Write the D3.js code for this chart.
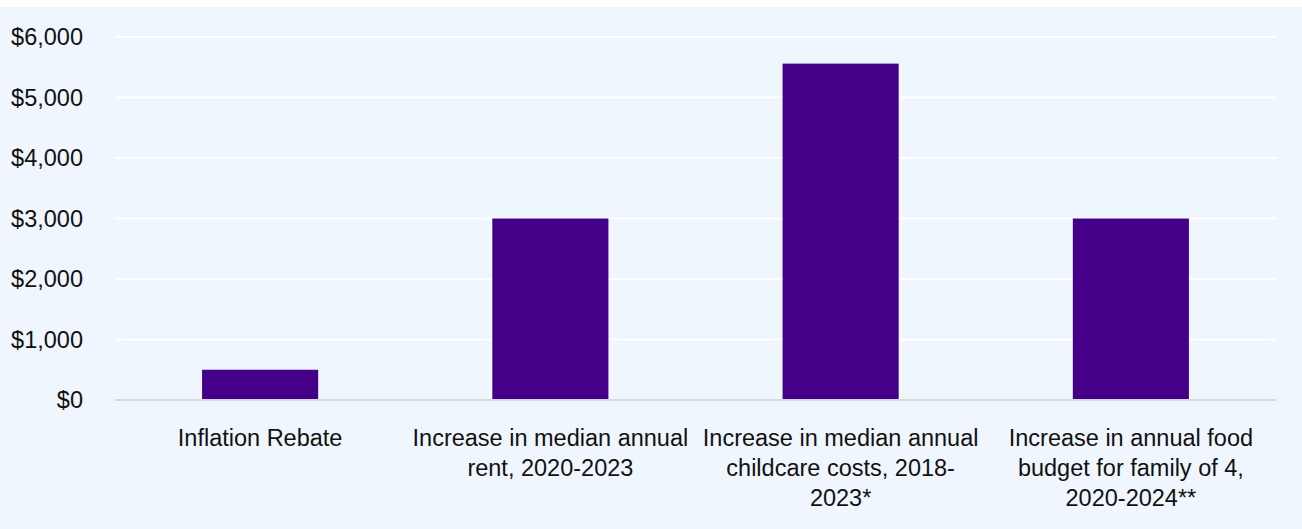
<!DOCTYPE html>
<html>
<head>
<meta charset="utf-8">
<script src="https://cdn.jsdelivr.net/npm/d3@7"></script>
<style>
  body { margin: 0; background: #fff; }
  svg { display: block; }
  text { font-family: "Liberation Sans", Arial, sans-serif; fill: #111; }
</style>
</head>
<body>
<svg id="chart"></svg>
<script>
// categories (each label split into its lines) and values
var categories = [
  ["Inflation Rebate"],
  ["Increase in median annual", "rent, 2020-2023"],
  ["Increase in median annual", "childcare costs, 2018-", "2023*"],
  ["Increase in annual food", "budget for family of 4,", "2020-2024**"]
];
var values = [500, 3000, 5560, 3000];
var yTicks = [0, 1000, 2000, 3000, 4000, 5000, 6000];

var W = 1302, H = 529;
var margin = {top: 37, right: 26, bottom: 129, left: 115},
    width = W - margin.left - margin.right,
    height = H - margin.top - margin.bottom;

var svg = d3.select("#chart").attr("width", W).attr("height", H);

// panel background
svg.append("rect")
  .attr("x", 0).attr("y", 7)
  .attr("width", W).attr("height", H - 7)
  .attr("fill", "#eff6fe");

var g = svg.append("g")
  .attr("transform", "translate(" + margin.left + "," + margin.top + ")");

var x = d3.scaleBand()
  .domain(d3.range(categories.length))
  .range([0, width])
  .paddingInner(0.6)
  .paddingOuter(0.3);

var y = d3.scaleLinear()
  .domain([0, 6000])
  .range([height, 0]);

// gridlines
g.selectAll(".grid")
  .data(yTicks.filter(function(d) { return d > 0; }))
  .enter()
  .append("line")
  .attr("x1", 0).attr("x2", width)
  .attr("y1", function(d) { return y(d); })
  .attr("y2", function(d) { return y(d); })
  .attr("stroke", "#ffffff")
  .attr("stroke-width", 2);

// bars
g.selectAll(".bar")
  .data(values)
  .enter()
  .append("rect")
  .attr("x", function(d, i) { return x(i); })
  .attr("y", function(d) { return y(d); })
  .attr("width", x.bandwidth())
  .attr("height", function(d) { return height - y(d); })
  .attr("fill", "#45008a");

// baseline
g.append("line")
  .attr("x1", 0).attr("x2", width)
  .attr("y1", y(0)).attr("y2", y(0))
  .attr("stroke", "#d9d9d9")
  .attr("stroke-width", 2);

// y axis labels
var fmt = d3.format("$,");
g.selectAll(".ylab")
  .data(yTicks)
  .enter()
  .append("text")
  .attr("x", -32)
  .attr("y", function(d) { return y(d); })
  .attr("dy", "0.35em")
  .attr("text-anchor", "end")
  .style("font-size", "23.5px")
  .text(function(d) { return fmt(d); });

// x labels
var xl = g.selectAll(".xlab")
  .data(categories)
  .enter()
  .append("text")
  .attr("text-anchor", "middle")
  .style("font-size", "23.5px")
  .attr("transform", function(d, i) {
    return "translate(" + (x(i) + x.bandwidth() / 2) + "," + (height + 46) + ")";
  });

xl.selectAll("tspan")
  .data(function(d) { return d; })
  .enter()
  .append("tspan")
  .attr("x", 0)
  .attr("y", function(d, i) { return i * 30; })
  .text(function(d) { return d; });
</script>
</body>
</html>
